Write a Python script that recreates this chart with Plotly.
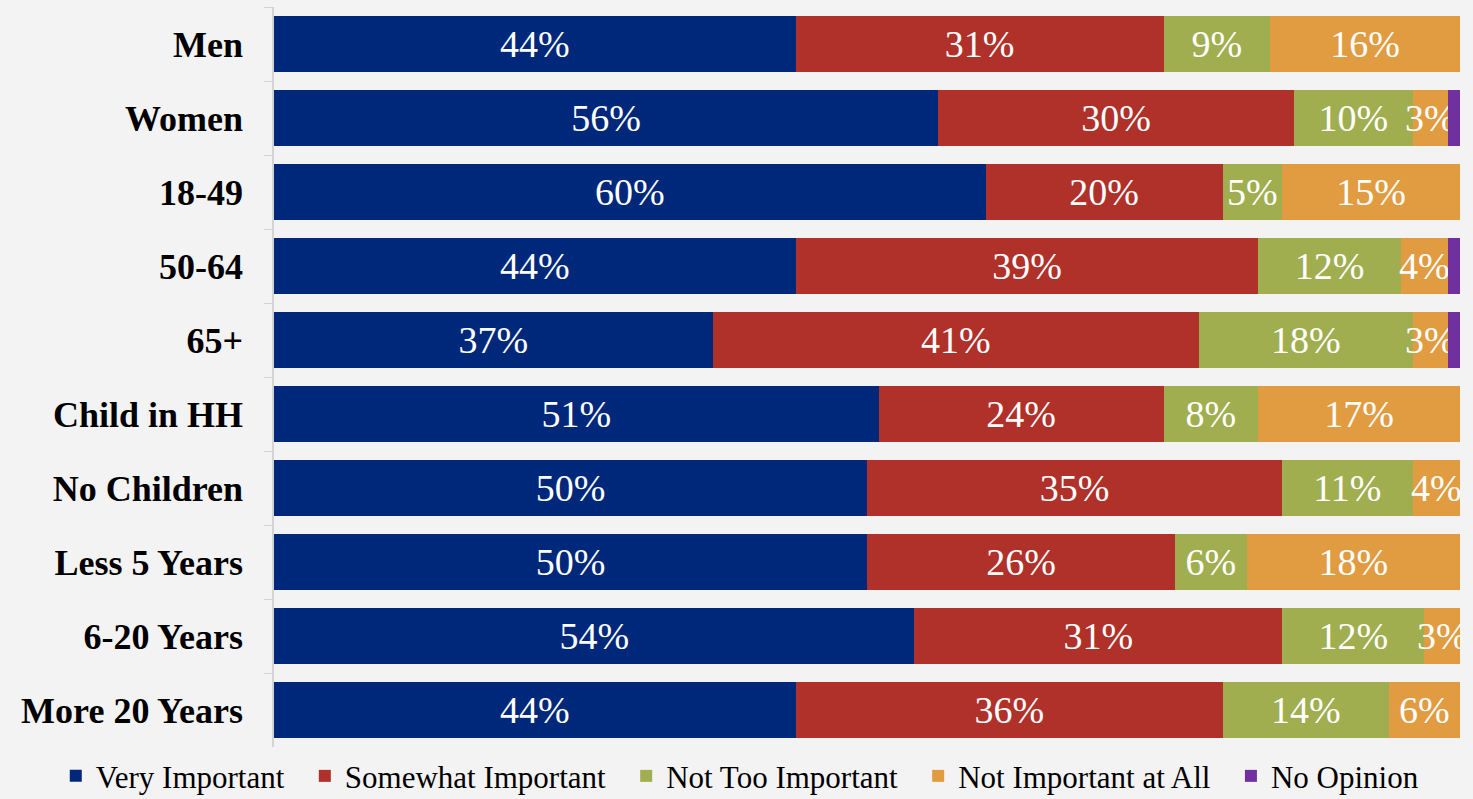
import plotly.graph_objects as go

groups = ["Men", "Women", "18-49", "50-64", "65+", "Child in HH", "No Children",
          "Less 5 Years", "6-20 Years", "More 20 Years"]
very_important = [44, 56, 60, 44, 37, 51, 50, 50, 54, 44]
somewhat_important = [31, 30, 20, 39, 41, 24, 35, 26, 31, 36]
not_too_important = [9, 10, 5, 12, 18, 8, 11, 6, 12, 14]
not_important_at_all = [16, 3, 15, 4, 3, 17, 4, 18, 3, 6]
no_opinion = [0, 1, 0, 1, 1, 0, 0, 0, 0, 0]

series = [
    ("Very Important", very_important, "#00287A", True),
    ("Somewhat Important", somewhat_important, "#B0302A", True),
    ("Not Too Important", not_too_important, "#A0AE50", True),
    ("Not Important at All", not_important_at_all, "#E19C42", True),
    ("No Opinion", no_opinion, "#7030A0", False),
]

serif = "Liberation Serif, Times New Roman, serif"
pad = "\u00a0\u00a0"  # a little extra room between legend entries

fig = go.Figure()
for name, vals, color, show_text in series:
    fig.add_trace(go.Bar(
        y=groups, x=vals,
        orientation="h",
        name=name + pad,
        marker=dict(color=color, line=dict(width=0)),
        text=[f"{v}%" for v in vals] if show_text else None,
        textposition="inside" if show_text else "none",
        insidetextanchor="middle",
        textangle=0,
        textfont=dict(family=serif, size=38, color="white"),
        cliponaxis=True,
    ))

fig.update_layout(
    barmode="stack",
    bargap=0.24,
    width=1473, height=799,
    margin=dict(l=274, r=13, t=7, b=52, autoexpand=False),
    paper_bgcolor="#f3f3f3",
    plot_bgcolor="#f3f3f3",
    uniformtext=dict(minsize=38, mode="show"),
    legend=dict(
        orientation="h",
        x=-0.184, xanchor="left",
        y=-0.003, yanchor="top",
        font=dict(family=serif, size=31, color="black"),
        traceorder="normal",
        itemwidth=30,
    ),
    xaxis=dict(range=[0, 100], visible=False, fixedrange=True),
    yaxis=dict(
        autorange="reversed",
        showline=True, linecolor="#d4d4d4", linewidth=1.5,
        ticks="outside", tickson="boundaries", ticklen=8, tickcolor="#d4d4d4",
        ticklabelstandoff=22,
        tickfont=dict(family=serif, size=36, color="black", weight="bold"),
        showgrid=False,
    ),
)

fig.write_html("out.html", post_script="document.body.style.margin='0';",
               config={"displayModeBar": False})
